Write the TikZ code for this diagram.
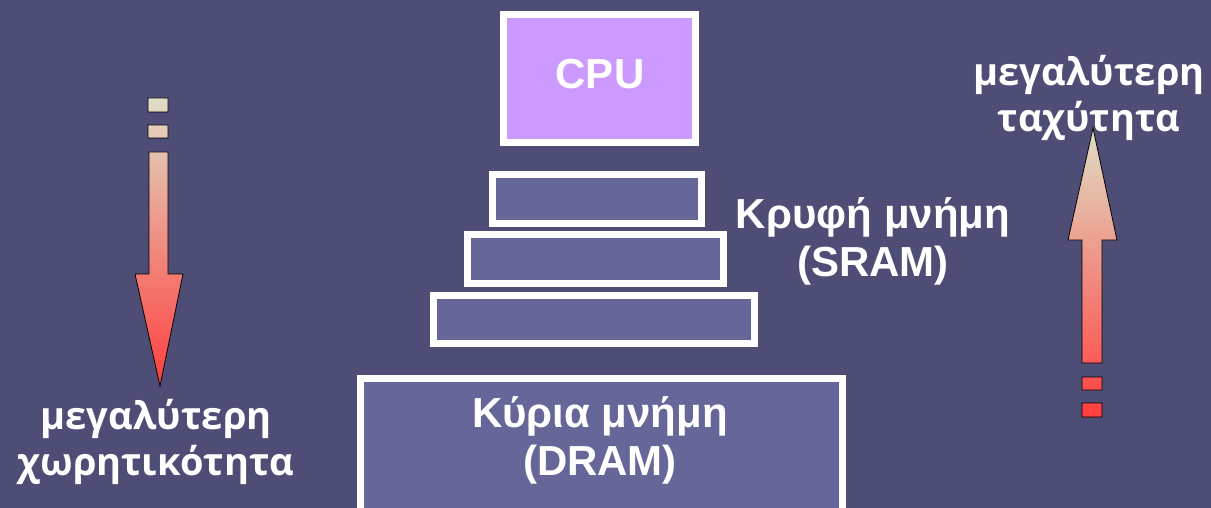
\documentclass[tikz,border=0pt]{standalone}
\usepackage{fontspec}
\setmainfont{Liberation Sans}
\newfontfamily\sidefont{Open Sans}
\usetikzlibrary{positioning}
\definecolor{bgblue}{RGB}{78,77,117}
\definecolor{membox}{RGB}{102,102,153}
\definecolor{cpubox}{RGB}{204,153,255}
\definecolor{arrtop}{RGB}{224,222,198}
\definecolor{arrbot}{RGB}{255,62,62}

\begin{document}
\begin{tikzpicture}[x=1pt,y=-1pt,
  memstyle/.style={draw=white,line width=7pt,fill=membox,inner sep=0pt},
  lbl/.style={text=white,font=\fontsize{42}{48}\selectfont\bfseries,align=center},
  sidelbl/.style={text=white,font=\sidefont\fontsize{38}{46}\selectfont\bfseries,align=center},
  arrstyle/.style={draw=black,line width=0.8pt,top color=arrtop,bottom color=arrbot}]
\fill[bgblue] (0,0) rectangle (1211,508);
\clip (0,0) rectangle (1211,508);

%cpu on top
\node[memstyle,fill=cpubox,minimum width=192pt,minimum height=128pt] (cpu) at (599.5,78.5) {};
\node[lbl] (cputxt) at (600,74) {CPU};

%cache levels (SRAM)
\node[memstyle,minimum width=209pt,minimum height=49pt,below=25pt of cpu,xshift=-2.5pt] (c1) {};
\node[memstyle,minimum width=256pt,minimum height=49pt,below=4pt of c1,xshift=-1.5pt] (c2) {};
\node[memstyle,minimum width=321pt,minimum height=48pt,below=5pt of c2,xshift=-1.5pt] (c3) {};
\node[lbl] (cachetxt) at (873,241) {Κρυφή μνήμη\\(SRAM)};

%main memory (DRAM)
\node[memstyle,minimum width=482pt,minimum height=150pt,below=28pt of c3,xshift=7.5pt] (dram) {};
\node[lbl] (dramtxt) at (600,440) {Κύρια μνήμη\\(DRAM)};

%left arrow (down)
\shadedraw[arrstyle] (148,98) rectangle (168,112)
  (148,125) rectangle (168,138)
  (149,152) -- (168,152) -- (168,274) -- (183,274) -- (160,386) -- (135,274) -- (149,274) -- cycle;
\node[sidelbl] (capacity) at (156,442) {μεγαλύτερη\\χωρητικότητα};

%right arrow (up)
\shadedraw[arrstyle] (1093,128) -- (1117,240) -- (1102,240) -- (1102,363) -- (1082,363) -- (1082,240) -- (1068,240) -- cycle
  (1082,377) rectangle (1102,390)
  (1082,403) rectangle (1102,417);
\node[sidelbl] (speed) at (1089,98) {μεγαλύτερη\\ταχύτητα};
\end{tikzpicture}
\end{document}
